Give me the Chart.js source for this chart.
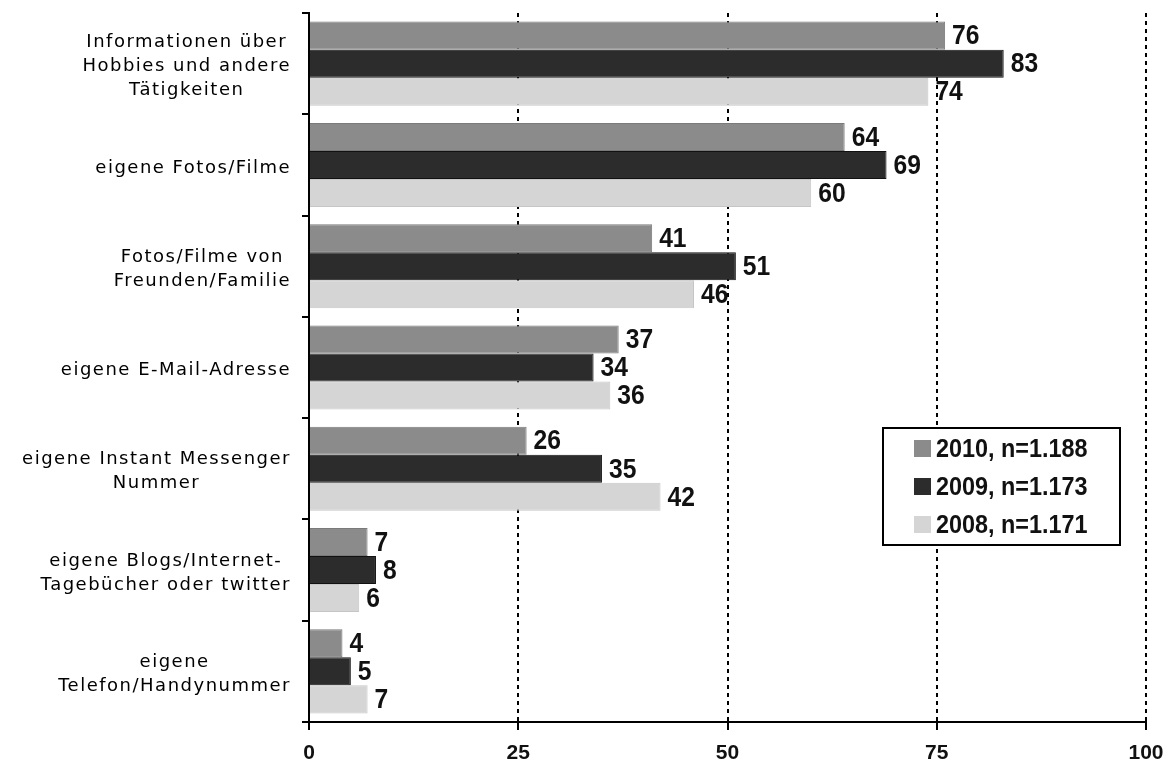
<!DOCTYPE html>
<html>
<head>
<meta charset="utf-8">
<script src="https://cdn.jsdelivr.net/npm/chart.js@4/dist/chart.umd.min.js"></script>
<style>
  html, body { margin: 0; padding: 0; background: #fff; }
  #chart { display: block; }
</style>
</head>
<body>
<canvas id="chart" width="1168" height="767"></canvas>
<script>
// Kategorien (mehrzeilig) und Werte in Prozent
const categories = [
  ['Informationen über', 'Hobbies und andere', 'Tätigkeiten'],
  ['eigene Fotos/Filme'],
  ['Fotos/Filme von', 'Freunden/Familie'],
  ['eigene E-Mail-Adresse'],
  ['eigene Instant Messenger', 'Nummer'],
  ['eigene Blogs/Internet-', 'Tagebücher oder twitter'],
  ['eigene', 'Telefon/Handynummer']
];
const values2010 = [76, 64, 41, 37, 26, 7, 4];
const values2009 = [83, 69, 51, 34, 35, 8, 5];
const values2008 = [74, 60, 46, 36, 42, 6, 7];
const seriesLabels = ['2010, n=1.188', '2009, n=1.173', '2008, n=1.171'];
const xTicks = [0, 25, 50, 75, 100];

const colors = ['#8b8b8b', '#2c2c2c', '#d5d5d5'];
const borders = ['#7a7a7a', '#111111', '#c6c6c6'];

// schmale Fettschrift: normale Schrift horizontal gestaucht
function narrowText(ctx, text, x, y, squeeze) {
  ctx.save();
  ctx.translate(x, y);
  ctx.scale(squeeze, 1);
  ctx.fillText(text, 0, 0);
  ctx.restore();
}

// Achsenbeschriftung links: Zeilen zentriert, Block rechtsbündig
const categoryLabels = {
  id: 'categoryLabels',
  afterDraw(chart) {
    const ctx = chart.ctx;
    const yScale = chart.scales.y;
    const right = chart.chartArea.left - 19;
    ctx.save();
    ctx.font = '18px "DejaVu Sans"';
    ctx.letterSpacing = '1.5px';
    ctx.fillStyle = '#000';
    ctx.textAlign = 'center';
    ctx.textBaseline = 'middle';
    const lineH = 24;
    categories.forEach((lines, i) => {
      const w = Math.max(...lines.map(l => ctx.measureText(l).width));
      const cx = right - w / 2;
      const cy = yScale.getPixelForValue(i) + 3;
      const y0 = cy - (lines.length - 1) * lineH / 2;
      lines.forEach((l, k) => ctx.fillText(l, cx + 1, y0 + k * lineH));
    });
    ctx.restore();
  }
};

// Werte rechts neben den Balken
const valueLabels = {
  id: 'valueLabels',
  afterDatasetsDraw(chart) {
    const ctx = chart.ctx;
    ctx.save();
    ctx.font = 'bold 28px "Liberation Sans"';
    ctx.fillStyle = '#111';
    ctx.textAlign = 'left';
    ctx.textBaseline = 'middle';
    chart.data.datasets.forEach((ds, di) => {
      chart.getDatasetMeta(di).data.forEach((bar, i) => {
        narrowText(ctx, String(ds.data[i]), bar.x + 7, bar.y + 1, 0.88);
      });
    });
    ctx.restore();
  }
};

// Legende im Diagrammbereich mit Rahmen
const boxLegend = {
  id: 'boxLegend',
  afterDraw(chart) {
    const ctx = chart.ctx;
    const x = 883, y = 428, w = 237, h = 117;
    ctx.save();
    ctx.fillStyle = '#fff';
    ctx.fillRect(x, y, w, h);
    ctx.strokeStyle = '#000';
    ctx.lineWidth = 2;
    ctx.strokeRect(x, y, w, h);
    ctx.font = 'bold 26px "Liberation Sans"';
    ctx.textBaseline = 'middle';
    chart.data.datasets.forEach((ds, i) => {
      const ry = y + 21 + i * 38;
      ctx.fillStyle = ds.backgroundColor;
      ctx.fillRect(x + 31, ry - 9, 17, 17);
      ctx.fillStyle = '#111';
      narrowText(ctx, ds.label, x + 53, ry + 1, 0.9);
    });
    ctx.restore();
  }
};

const ctx = document.getElementById('chart').getContext('2d');
new Chart(ctx, {
  type: 'bar',
  data: {
    labels: categories.map(c => c.join(' ')),
    datasets: [values2010, values2009, values2008].map((vals, i) => ({
      label: seriesLabels[i],
      data: vals,
      backgroundColor: colors[i],
      borderColor: borders[i],
      borderWidth: 1,
      barPercentage: 1,
      categoryPercentage: 0.83
    }))
  },
  options: {
    indexAxis: 'y',
    responsive: false,
    animation: false,
    layout: { padding: { top: 13, right: 22, left: 0, bottom: 0 } },
    plugins: {
      legend: { display: false },
      tooltip: { enabled: false }
    },
    scales: {
      x: {
        min: 0,
        max: 100,
        afterBuildTicks: scale => { scale.ticks = xTicks.map(v => ({ value: v })); },
        afterFit: scale => {
          scale.height = 45;
          scale.paddingLeft = 0;
          scale.paddingRight = 0;
        },
        ticks: {
          color: '#111',
          padding: 11,
          font: { family: '"Liberation Sans"', weight: 'bold', size: 21 }
        },
        grid: {
          color: c => (c.tick && c.tick.value === 0 ? 'rgba(0,0,0,0)' : '#000'),
          lineWidth: 2,
          tickColor: '#000',
          tickWidth: 2,
          tickLength: 8
        },
        border: { display: true, color: '#000', width: 2, dash: [4, 4] }
      },
      y: {
        afterFit: scale => { scale.width = 309; },
        ticks: { display: false },
        grid: {
          offset: true,
          drawOnChartArea: false,
          color: '#000',
          lineWidth: 2,
          tickLength: 7
        },
        border: { display: true, color: '#000', width: 2 }
      }
    }
  },
  plugins: [categoryLabels, valueLabels, boxLegend]
});
</script>
</body>
</html>
